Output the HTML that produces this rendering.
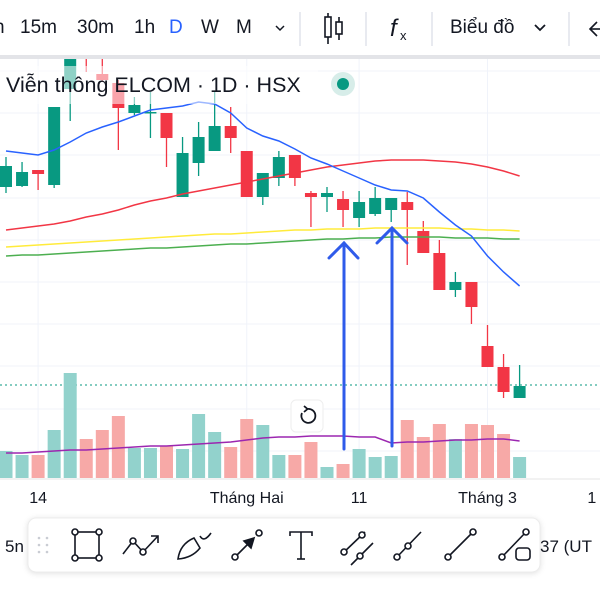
<!DOCTYPE html>
<html><head><meta charset="utf-8">
<style>
html,body{margin:0;padding:0;background:#fff;width:600px;height:600px;overflow:hidden;font-family:"Liberation Sans","Noto Sans CJK SC",sans-serif;}
svg text{font-family:"Liberation Sans","Noto Sans CJK SC",sans-serif;}
</style></head>
<body>
<svg id="chart" width="600" height="600" viewBox="0 0 600 600" xmlns="http://www.w3.org/2000/svg">
  <rect x="0" y="0" width="600" height="600" fill="#fff"/>
  <g id="grid"></g>
  <line x1="0" y1="385" x2="600" y2="385" stroke="#089981" stroke-width="1" stroke-dasharray="2,3"/>
  <g id="volume"></g>
  <path id="vol-ma" fill="none" stroke="#9c27b0" stroke-width="1.5"/>
  <g id="price" clip-path="url(#pclip)"></g>
  <defs><clipPath id="pclip"><rect x="0" y="57" width="600" height="421"/></clipPath></defs>
  <g id="mas" clip-path="url(#pclip)"></g>
  <!-- legend -->
  <rect x="0" y="66" width="318" height="38" fill="#fff" opacity="0.55"/>
  <text x="6" y="92" font-size="21.5" fill="#131722">Viễn thông ELCOM · 1D · HSX</text>
  <circle cx="343" cy="84" r="12" fill="#d7ede9"/>
  <circle cx="343" cy="84" r="6" fill="#089981"/>
  <!-- arrows -->
  <g stroke="#2f5bea" stroke-width="3" fill="none" stroke-linecap="round">
    <line x1="344" y1="449" x2="344" y2="243"/><polyline points="329,258 344,243 358,258"/>
  </g>
  <g stroke="#2f5bea" stroke-width="3" fill="none" stroke-linecap="round">
    <line x1="392" y1="446" x2="392" y2="229"/><polyline points="377,243 392,228 407,243"/>
  </g>
  <!-- reset button -->
  <g>
    <rect x="291" y="400" width="32" height="32" rx="5" fill="#fff" stroke="#eee"/>
    <path d="M302 413 A7 7 0 1 0 307 409" fill="none" stroke="#131722" stroke-width="1.8"/>
    <polyline points="304,406 307.5,409 304,412" fill="none" stroke="#131722" stroke-width="1.8"/>
  </g>
  <!-- x axis -->
  <line x1="0" y1="479" x2="600" y2="479" stroke="#e6e6e6"/>
  <g id="xaxis" font-size="16" fill="#131722" text-anchor="middle"></g>
  <!-- top toolbar -->
  <rect x="0" y="0" width="600" height="55" fill="#fff"/>
  <rect x="0" y="55" width="600" height="4" fill="#e3e4e8"/>
  <g font-size="19" fill="#131722">
    <text x="-6" y="33">n</text>
    <text x="20" y="33">15m</text>
    <text x="77" y="33">30m</text>
    <text x="134" y="33">1h</text>
    <text x="169" y="33" fill="#2962ff">D</text>
    <text x="201" y="33">W</text>
    <text x="236" y="33">M</text>
    <text x="450" y="33">Biểu đồ</text>
  </g>
  <polyline points="276,26 280,30 284,26" fill="none" stroke="#131722" stroke-width="1.5"/>
  <polyline points="535,25 540,30 545,25" fill="none" stroke="#131722" stroke-width="1.8"/>
  <g stroke="#e0e3eb" stroke-width="1.5">
    <line x1="300" y1="12" x2="300" y2="46"/><line x1="366" y1="12" x2="366" y2="46"/><line x1="432" y1="12" x2="432" y2="46"/><line x1="569" y1="12" x2="569" y2="46"/>
  </g>
  <g stroke="#131722" stroke-width="1.6" fill="none">
    <line x1="328" y1="13" x2="328" y2="44"/><rect x="325" y="17" width="6" height="20" fill="#fff"/>
    <line x1="339" y1="17" x2="339" y2="40"/><rect x="336" y="22" width="6" height="12" fill="#fff"/>
  </g>
  <g>
    <text x="390" y="36" font-size="24" font-style="italic" font-family="Liberation Serif" fill="#131722">f</text>
    <text x="400" y="40" font-size="13" fill="#131722">x</text>
  </g>
  <polyline points="597,22 590,29 597,36" fill="none" stroke="#131722" stroke-width="1.6"/>
  <line x1="590" y1="29" x2="600" y2="29" stroke="#131722" stroke-width="1.6"/>
  <!-- bottom toolbar -->
  <text x="5" y="552" font-size="17" fill="#131722">5n</text>
  <text x="540" y="552" font-size="17" fill="#131722">37 (UT</text>
  <rect x="28" y="518" width="512" height="54" rx="8" fill="#fff" stroke="#ececec" style="filter:drop-shadow(0 1px 3px rgba(0,0,0,0.12))"/>
  <g fill="#c9ccd3">
    <circle cx="39" cy="538" r="1.3"/><circle cx="47" cy="538" r="1.3"/><circle cx="39" cy="545" r="1.3"/><circle cx="47" cy="545" r="1.3"/><circle cx="39" cy="552" r="1.3"/><circle cx="47" cy="552" r="1.3"/>
  </g>
  <g stroke="#131722" stroke-width="1.6" fill="#fff">
    <g><rect x="75" y="532" width="24" height="26" fill="none"/><circle cx="75" cy="532" r="3"/><circle cx="99" cy="532" r="3"/><circle cx="75" cy="558" r="3"/><circle cx="99" cy="558" r="3"/></g>
    <g><polyline points="123,554 133,541 143,552 158,536" fill="none"/><polyline points="151,536 158,536 158,543" fill="none"/><circle cx="133" cy="541" r="3"/><circle cx="143" cy="552" r="3"/></g>
    <g><path d="M178 559 Q180 544 194 538 L200 548 Q192 558 178 559 Z" fill="none"/><path d="M200 536 Q204 543 211 533" fill="none"/></g>
    <g><line x1="235" y1="557" x2="254" y2="538"/><circle cx="235" cy="557" r="3"/><circle cx="259" cy="533" r="3"/><polygon points="254,538 244,541 251,548" fill="#131722"/></g>
    <g><polyline points="290,536 290,532 312,532 312,536" fill="none"/><line x1="301" y1="532" x2="301" y2="559"/><line x1="297" y1="559" x2="305" y2="559"/></g>
    <g><line x1="342" y1="554" x2="365" y2="532"/><line x1="351" y1="565" x2="373" y2="543"/><circle cx="344" cy="552" r="3"/><circle cx="362" cy="535" r="3"/><circle cx="360" cy="556" r="3"/></g>
    <g><line x1="397" y1="557" x2="421" y2="532"/><circle cx="397" cy="557" r="3"/><circle cx="408" cy="546" r="3"/></g>
    <g><line x1="448" y1="557" x2="473" y2="532"/><circle cx="448" cy="557" r="3"/><circle cx="473" cy="532" r="3"/></g>
    <g><line x1="502" y1="557" x2="526" y2="532"/><circle cx="502" cy="557" r="3"/><circle cx="526" cy="532" r="3"/><rect x="516" y="548" width="14" height="12" rx="3" fill="none"/></g>
  </g>
</svg>
<script>
// ---- data ----
const opens  = [31.3,31.4,33.0,31.5,41.1,45.0,42.6,41.7,38.7,38.7,38.7,30.3,33.7,34.9,37.4,34.9,30.3,32.2,34.5,30.7,30.3,30.1,28.2,28.6,29.0,29.8,26.9,24.7,21.0,21.8,15.4,13.3,10.2];
const highs  = [34.3,33.8,33.0,39.3,45.0,45.5,44.2,42.0,40.3,40.8,38.7,36.3,37.8,40.8,39.3,34.9,32.7,34.9,34.5,30.9,31.3,30.9,30.9,31.3,30.2,30.8,27.9,26.0,22.8,21.8,17.5,14.6,13.5];
const lows   = [30.7,31.3,31.0,31.2,37.9,42.8,41.8,35.0,38.5,36.2,33.3,30.3,32.4,34.9,34.7,30.3,29.5,31.4,31.4,27.3,28.8,27.3,27.3,28.4,27.8,23.5,24.7,21.0,20.3,17.6,13.3,10.2,10.2];
const closes = [33.4,32.8,32.6,39.3,44.5,44.5,42.0,39.2,39.5,38.8,36.2,34.7,36.3,37.4,36.2,30.3,32.7,34.3,32.2,30.3,30.7,29.0,29.8,30.2,30.2,29.0,24.7,21.0,21.8,19.3,13.3,10.8,11.4];
const ma10 = [34.9,34.7,34.5,35.0,35.8,36.7,37.3,37.8,38.4,39.0,39.2,39.4,39.8,39.6,38.7,37.2,36.4,35.9,35.1,34.2,33.6,32.9,32.2,31.5,31.0,30.9,30.2,28.8,27.5,26.4,24.4,22.8,21.4];
const ma50 = [27.0,27.2,27.4,27.6,27.9,28.3,28.6,29.0,29.5,29.9,30.2,30.6,30.9,31.2,31.5,31.8,32.1,32.4,32.7,33.0,33.3,33.5,33.7,33.9,34.0,34.0,34.0,33.9,33.8,33.6,33.3,32.9,32.4];
const ma100 = [25.3,25.4,25.5,25.6,25.7,25.8,25.9,26.0,26.1,26.2,26.3,26.4,26.5,26.6,26.6,26.7,26.8,26.9,27.0,27.0,27.1,27.1,27.1,27.2,27.2,27.2,27.2,27.2,27.1,27.1,27.0,27.0,26.9];
const ma200 = [24.4,24.5,24.5,24.6,24.7,24.8,24.9,25.0,25.1,25.2,25.2,25.3,25.4,25.5,25.6,25.6,25.7,25.8,25.9,26.0,26.1,26.1,26.2,26.2,26.3,26.3,26.3,26.3,26.2,26.2,26.2,26.1,26.1];
const volumes = [27,23,23,48,105,39,48,62,30,30,32,29,64,46,31,59,53,23,23,36,11,14,29,21,22,58,41,54,39,54,53,44,21];
const volMA = [25,25,26,27,28,28,29,30,31,32,32,33,34,35,36,38,40,41,41,42,42,42,41,41,35,36,36,37,38,38,39,39,37];
const xTickLabels = ["14","Tháng Hai","11","Tháng 3","1"];
const xTickIndex = [2,15,22,30,36.5];

// ---- axes ----
const NS = "http://www.w3.org/2000/svg";
const xPos = i => 6 + 16.05 * i;
const yPrice = p => 500 - 10 * p;
const yVol = v => 478 - v;
function mk(tag, attrs, parent){ const e=document.createElementNS(NS,tag); for(const k in attrs) e.setAttribute(k,attrs[k]); parent.appendChild(e); return e; }

// grid
const grid = document.getElementById('grid');
[71,113,155,198,240,282,324,366,409,451].forEach(y=>{
  const l = mk('line',{x1:0,y1:y,x2:600,y2:y,stroke:'#f0f3fa','stroke-width':1},grid);
  
  
});
xTickIndex.slice(0,4).forEach(i=>{
  const l = mk('line',{x1:xPos(i),y1:57,x2:xPos(i),y2:478,stroke:'#f0f3fa','stroke-width':1},grid);
  
  
});

// volume
const vg = document.getElementById('volume');
volumes.forEach((v,i)=>{
  const up = closes[i] >= opens[i];
  const r = mk('rect',{x:xPos(i)-6.5,y:yVol(v),width:13,height:v,fill:up?'#92d2cc':'#f7a9a7'},vg);
  
  
});
document.getElementById('vol-ma').setAttribute('d', volMA.map((v,i)=>(i?'L':'M')+xPos(i)+' '+yVol(v)).join(' '));

// candles
const pg = document.getElementById('price');
opens.forEach((o,i)=>{
  const c = closes[i], up = c >= o, col = up ? '#089981' : '#f23645';
  const g = mk('g',{},pg);
  
  
  mk('line',{x1:xPos(i),x2:xPos(i),y1:yPrice(highs[i]),y2:yPrice(lows[i]),stroke:col,'stroke-width':1.3},g);
  const top = yPrice(Math.max(o,c)), h = Math.max(1.5, Math.abs(yPrice(o)-yPrice(c)));
  mk('rect',{x:xPos(i)-6,y:top,width:12,height:h,fill:col},g);
});

// moving averages
const mg = document.getElementById('mas');
[[ma200,'#4caf50','ma-200-line'],[ma100,'#ffeb3b','ma-100-line'],[ma50,'#f23645','ma-50-line'],[ma10,'#2962ff','ma-10-line']].forEach(([arr,col,name])=>{
  const p = mk('path',{d:arr.map((v,i)=>(i?'L':'M')+xPos(i)+' '+yPrice(v)).join(' '),fill:'none',stroke:col,'stroke-width':1.5},mg);
  
  
});

// x axis labels
const xa = document.getElementById('xaxis');
xTickLabels.forEach((t,k)=>{
  const e = mk('text',{x:xPos(xTickIndex[k]),y:503},xa);
  e.textContent = t;
  
  
});
</script>
</body></html>
